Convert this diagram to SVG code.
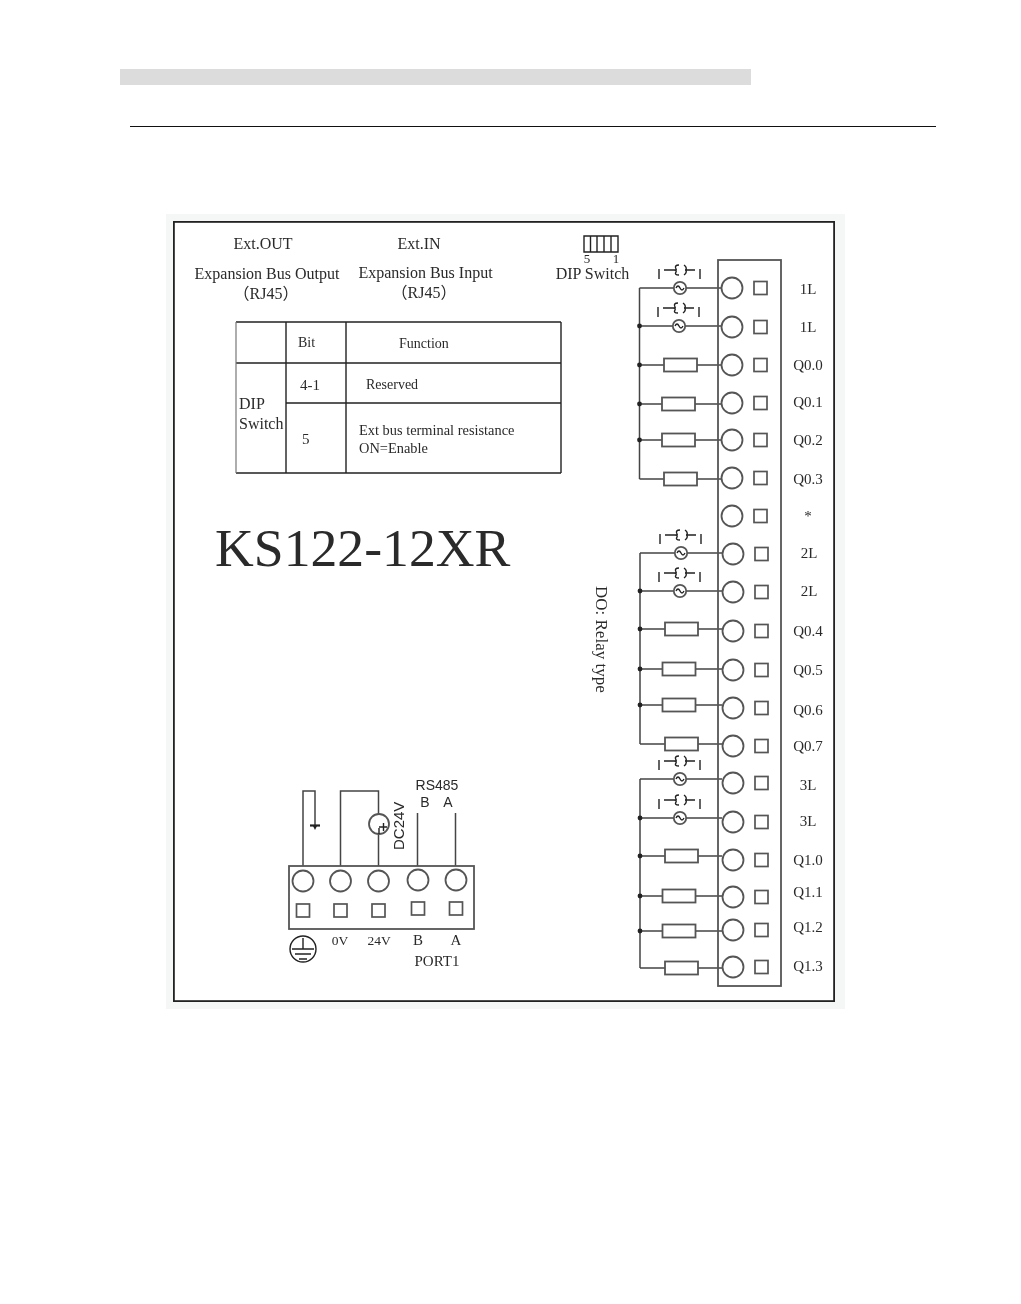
<svg xmlns="http://www.w3.org/2000/svg" xmlns:xlink="http://www.w3.org/1999/xlink" width="1021" height="1304" viewBox="0 0 1021 1304">
<style>
text{font-family:"Liberation Serif","Times New Roman","Noto Sans CJK SC",serif;fill:#2a2a2a}
.m{text-anchor:middle}
.lb{font-size:15px;text-anchor:middle}
.sans{font-family:"Liberation Sans",Arial,sans-serif}
.w{fill:none;stroke:#444;stroke-width:1.5}
.k{fill:none;stroke:#222;stroke-width:1.4}
.g{fill:#fff;stroke:#555;stroke-width:1.8}
.sq{fill:#fff;stroke:#555;stroke-width:1.7}
.dot{fill:#222}
</style>
<defs>
<filter id="soft" x="0" y="0" width="100%" height="100%"><feGaussianBlur stdDeviation="0.35"/></filter>
<g id="ac">
<path class="k" d="M-21-19v10M20-19v10M-16-18H-6M5-18H15" stroke-width="1"/>
<path class="k" d="M-1-23Q-6-23-4-19Q-3-18-6-18Q-3-18-4-16Q-6-13-1-13M4-23Q7-21 6-18Q7-15 4-13"/>
<circle class="g" r="6.2" stroke="#333"/>
<path class="k" d="M-4 0Q-2-4 0 0T4 0"/>
</g>
<rect id="res" class="g" x="-16.5" y="-6.5" width="33" height="13"/>
<g id="term"><circle class="g" r="10.5"/><rect class="sq" x="22" y="-6.5" width="13" height="13"/></g>
<g id="pterm"><circle class="g" r="10.5"/><rect class="sq" x="-6.5" y="23" width="13" height="13"/></g>
</defs>
<rect width="1021" height="1304" fill="#fff"/>
<rect x="120" y="69" width="631" height="16" fill="#dcdcdc"/>
<path d="M130 126.500H936" stroke="#111" stroke-width="1"/>
<rect x="166" y="214" width="679" height="795" fill="#f5f6f6"/>
<g filter="url(#soft)">
<rect id="frame" x="173.500" y="221.500" width="661" height="780" fill="#fff" stroke="#222" stroke-width="2.600"/>

<g id="connectors">
<path class="w" d="M639.500 288V479M640 553V744M640 779V968"/>
<path class="w" d="M639.500 288H722M639.500 326H722M639.500 365H722M639.500 404H722M639.500 440H722M639.500 479H722"/>
<path class="w" d="M640 553H722M640 591H722M640 629H722M640 669H722M640 705H722M640 744H722"/>
<path class="w" d="M640 779H722M640 818H722M640 856H722M640 896H722M640 931H722M640 968H722"/>
<g class="dot">
<circle cx="639.500" cy="326" r="2.400"/><circle cx="639.500" cy="365" r="2.400"/><circle cx="639.500" cy="404" r="2.400"/><circle cx="639.500" cy="440" r="2.400"/>
<circle cx="640" cy="591" r="2.400"/><circle cx="640" cy="629" r="2.400"/><circle cx="640" cy="669" r="2.400"/><circle cx="640" cy="705" r="2.400"/>
<circle cx="640" cy="818" r="2.400"/><circle cx="640" cy="856" r="2.400"/><circle cx="640" cy="896" r="2.400"/><circle cx="640" cy="931" r="2.400"/>
</g>
<path class="w" d="M303 866V791H315V825"/>
<path d="M310 825.500H320" stroke="#222" stroke-width="2.200" fill="none"/><path d="M313 826L315 830L317 826Z" fill="#222"/>
<path class="w" d="M340.500 866V791H378.500V866M417.500 813V866M455.500 813V866"/>
</g>

<g id="output-strip">
<rect class="g" x="718" y="260" width="63" height="726" fill-opacity="0"/>
</g>
<g id="loads">
<use href="#ac" x="680" y="288"/><use href="#ac" x="679" y="326"/>
<use href="#res" x="680.500" y="365"/><use href="#res" x="678.500" y="404"/><use href="#res" x="678.500" y="440"/><use href="#res" x="680.500" y="479"/>
<use href="#ac" x="681" y="553"/><use href="#ac" x="680" y="591"/>
<use href="#res" x="681.500" y="629"/><use href="#res" x="679" y="669"/><use href="#res" x="679" y="705"/><use href="#res" x="681.500" y="744"/>
<use href="#ac" x="680" y="779"/><use href="#ac" x="680" y="818"/>
<use href="#res" x="681.500" y="856"/><use href="#res" x="679" y="896"/><use href="#res" x="679" y="931"/><use href="#res" x="681.500" y="968"/>
</g>
<g id="terminals">
<use href="#term" x="732" y="288"/><use href="#term" x="732" y="327"/><use href="#term" x="732" y="365"/><use href="#term" x="732" y="403"/><use href="#term" x="732" y="440"/><use href="#term" x="732" y="478"/>
<use href="#term" x="732" y="516"/><use href="#term" x="733" y="554"/><use href="#term" x="733" y="592"/><use href="#term" x="733" y="631"/><use href="#term" x="733" y="670"/><use href="#term" x="733" y="708"/><use href="#term" x="733" y="746"/>
<use href="#term" x="733" y="783"/><use href="#term" x="733" y="822"/><use href="#term" x="733" y="860"/><use href="#term" x="733" y="897"/><use href="#term" x="733" y="930"/><use href="#term" x="733" y="967"/>
</g>
<g id="terminal-labels">
<text class="lb" x="808" y="294">1L</text><text class="lb" x="808" y="332">1L</text><text class="lb" x="808" y="370">Q0.0</text><text class="lb" x="808" y="407">Q0.1</text><text class="lb" x="808" y="445">Q0.2</text><text class="lb" x="808" y="484">Q0.3</text>
<text class="lb" x="808" y="521">*</text><text class="lb" x="809" y="558">2L</text><text class="lb" x="809" y="596">2L</text><text class="lb" x="808" y="636">Q0.4</text><text class="lb" x="808" y="675">Q0.5</text><text class="lb" x="808" y="715">Q0.6</text><text class="lb" x="808" y="751">Q0.7</text>
<text class="lb" x="808" y="790">3L</text><text class="lb" x="808" y="826">3L</text><text class="lb" x="808" y="865">Q1.0</text><text class="lb" x="808" y="897">Q1.1</text><text class="lb" x="808" y="932">Q1.2</text><text class="lb" x="808" y="971">Q1.3</text>
</g>

<g id="port-block">
<rect class="g" x="289" y="866" width="185" height="63"/>
<use href="#pterm" x="303" y="881"/><use href="#pterm" x="340.500" y="881"/><use href="#pterm" x="378.500" y="881"/>
<circle class="g" cx="418" cy="880" r="10.500"/><circle class="g" cx="456" cy="880" r="10.500"/>
<rect class="sq" x="411.500" y="902" width="13" height="13"/><rect class="sq" x="449.500" y="902" width="13" height="13"/>
<text class="lb" x="340" y="945" style="font-size:13.500px">0V</text><text class="lb" x="379" y="945" style="font-size:13.500px">24V</text>
<text class="lb" x="418" y="945">B</text><text class="lb" x="456" y="945">A</text>
<text class="lb" x="437" y="966">PORT1</text>
</g>
<g id="dc-source">
<circle class="g" cx="379" cy="824" r="10"/><path class="k" d="M379 828V834M379 827H387M383.500 823V831"/>
<text class="sans" transform="translate(404 850) rotate(-90)" style="font-size:15px">DC24V</text>
</g>
<g id="rs485">
<text class="sans m" x="437" y="790" style="font-size:14px">RS485</text>
<text class="sans m" x="425" y="807" style="font-size:14px">B</text><text class="sans m" x="448" y="807" style="font-size:14px">A</text>
</g>
<g id="ground">
<circle class="k" cx="303" cy="949" r="13"/><path class="k" d="M303 938V949M292 949H314M295 954H311M299 959H307"/>
</g>

<g id="headers">
<text class="m" x="263" y="249" style="font-size:16px">Ext.OUT</text>
<text class="m" x="267" y="279" style="font-size:16px">Expansion Bus Output</text>
<text class="m" x="266" y="299" style="font-size:16px">（RJ45）</text>
<text class="m" x="419" y="249" style="font-size:16px">Ext.IN</text>
<text class="m" x="425.500" y="278" style="font-size:16px">Expansion Bus Input</text>
<text class="m" x="424" y="298" style="font-size:16px">（RJ45）</text>
<text class="m" x="592.500" y="279" style="font-size:16px">DIP Switch</text>
</g>
<g id="dip-switch">
<path class="k" d="M584 236H618V252H584ZM590.500 236V252M597 236V252M604 236V252M611 236V252"/>
<text class="m" x="587" y="263" style="font-size:13px">5</text><text class="m" x="616" y="263" style="font-size:13px">1</text>
</g>
<g id="dip-table">
<path class="k" d="M236 322H561M236 363H561M286 403H561M236 473H561M286 322V473M346 322V473M561 322V473"/>
<path d="M236 322V473" fill="none" stroke="#777" stroke-width="1.200"/>
<text x="298" y="347" style="font-size:14px">Bit</text>
<text x="399" y="348" style="font-size:14px">Function</text>
<text x="300" y="390" style="font-size:15px">4-1</text>
<text x="366" y="389" style="font-size:14px">Reserved</text>
<text x="239" y="409" style="font-size:16px">DIP</text>
<text x="239" y="429" style="font-size:16px">Switch</text>
<text x="302" y="444" style="font-size:15px">5</text>
<text x="359" y="435" style="font-size:14.400px">Ext bus terminal resistance</text>
<text x="359" y="453" style="font-size:14.400px">ON=Enable</text>
</g>
<text id="title" x="215" y="566" style="font-size:53.700px">KS122-12XR</text>
<text id="relay" transform="translate(596 586) rotate(90)" style="font-size:17px">DO: Relay type</text>
</g>
</svg>
